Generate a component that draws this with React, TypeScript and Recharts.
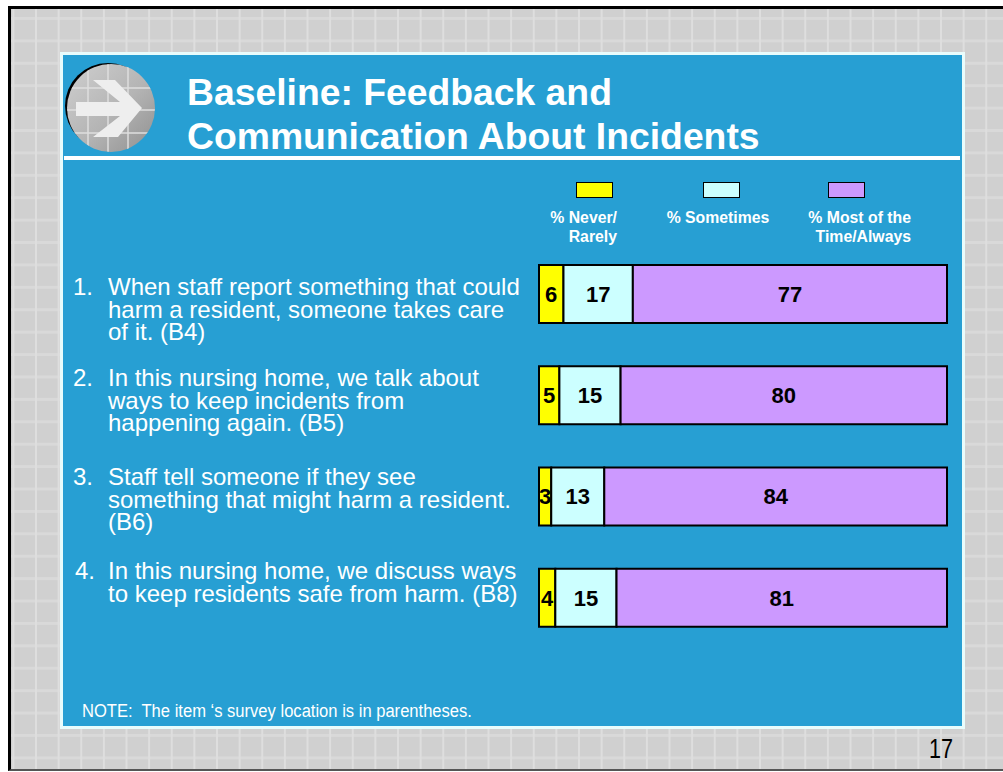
import { Bar, BarChart, LabelList, XAxis, YAxis } from 'recharts'

const ARIAL = '"Liberation Sans", Arial, sans-serif'

const itemIds = ['1', '2', '3', '4']
const neverRarely = [6, 5, 3, 4]
const sometimes = [17, 15, 13, 15]
const mostAlways = [77, 80, 84, 81]

const itemNumbers = ['1.', '2.', '3.', '4.']
const itemLines = [
  ['When staff report something that could', 'harm a resident, someone takes care', 'of it. (B4)'],
  ['In this nursing home, we talk about', 'ways to keep incidents from', 'happening again. (B5)'],
  ['Staff tell someone if they see', 'something that might harm a resident.', '(B6)'],
  ['In this nursing home, we discuss ways', 'to keep residents safe from harm. (B8)'],
]
const itemFirstLineShift = [-7.5, -17.5, -20, -27]

const legendItems = [
  { label: ['% Never/', 'Rarely'], color: '#ffff00', swatchLeft: 576, textLeft: 517, width: 100, align: 'right' },
  { label: ['% Sometimes'], color: '#ccffff', swatchLeft: 703, textLeft: 658, width: 120, align: 'center' },
  { label: ['% Most of the', 'Time/Always'], color: '#cc99ff', swatchLeft: 828, textLeft: 791, width: 120, align: 'right' },
]

const data = itemIds.map((id, i) => ({
  id,
  never: neverRarely[i],
  sometimes: sometimes[i],
  most: mostAlways[i],
}))

function ItemTick({ y, payload }: any) {
  const i = itemIds.indexOf(payload.value)
  const top = y + itemFirstLineShift[i]
  return (
    <text fontFamily={ARIAL} fontSize={24} fill="#ffffff" y={top} dominantBaseline="central">
      <tspan x={i === 3 ? 15 : 13} y={top} dominantBaseline="central">
        {itemNumbers[i]}
      </tspan>
      {itemLines[i].map((line, j) => (
        <tspan key={j} x={48} y={top + j * 22.5} dominantBaseline="central">
          {line}
        </tspan>
      ))}
    </text>
  )
}

function SeriesLabels({ dataKey }: { dataKey: string }) {
  return (
    <LabelList
      dataKey={dataKey}
      position="center"
      fill="#000000"
      style={{ fontFamily: ARIAL, fontSize: 22, fontWeight: 700 }}
    />
  )
}

function ArrowBadge() {
  return (
    <svg width={100} height={100} style={{ position: 'absolute', left: 62, top: 60 }}>
      <defs>
        <linearGradient id="badge" x1="0" y1="0" x2="1" y2="1">
          <stop offset="0%" stopColor="#cfcfcf" />
          <stop offset="55%" stopColor="#b4b4b4" />
          <stop offset="100%" stopColor="#8f8f8f" />
        </linearGradient>
        <clipPath id="badgeClip">
          <circle cx={49} cy={48} r={44} />
        </clipPath>
      </defs>
      <circle cx={46} cy={46} r={43} fill="#000000" />
      <circle cx={49} cy={48} r={44} fill="url(#badge)" />
      <g clipPath="url(#badgeClip)" stroke="#dedede" strokeWidth={1.5}>
        <path d="M26 0 V100 M46 0 V100 M66 0 V100 M0 28 H100 M0 50 H100 M0 73 H100" />
      </g>
      <path d="M31 20 L53 20 L80 48 L56 77 L31 77 L58 56 L14 56 L14 42 L58 42 Z" fill="#eeeeee" />
    </svg>
  )
}

export default function App() {
  return (
    <div style={{ position: 'fixed', left: 0, top: 0, width: 1003, height: 772, background: '#ffffff', overflow: 'hidden', fontFamily: ARIAL }}>
      <div
        style={{
          position: 'absolute',
          left: 8,
          top: 6,
          width: 995,
          height: 765,
          borderLeft: '3px solid #000000',
          borderTop: '3px solid #000000',
          borderBottom: '2px solid #555555',
          boxSizing: 'border-box',
          backgroundColor: '#d0d0d0',
          backgroundImage:
            'linear-gradient(to right, #dedede 1.5px, transparent 1.5px), linear-gradient(to bottom, #d9d9d9 2.5px, transparent 2.5px)',
          backgroundSize: '22.64px 22.42px',
          backgroundPosition: '1.4px 8px',
        }}
      />
      <div
        style={{
          position: 'absolute',
          left: 60,
          top: 52,
          width: 905,
          height: 677,
          boxSizing: 'border-box',
          background: '#279fd3',
          border: '3px solid #e8fcfc',
        }}
      />
      <ArrowBadge />
      <div style={{ position: 'absolute', left: 187, top: 70, color: '#ffffff', fontSize: 37.3, fontWeight: 700, lineHeight: '44px', whiteSpace: 'nowrap' }}>
        <div>Baseline: Feedback and</div>
        <div>Communication About Incidents</div>
      </div>
      <div style={{ position: 'absolute', left: 64, top: 156, width: 896, height: 4, background: '#ffffff' }} />

      {legendItems.map((item) => (
        <div key={item.color}>
          <div
            style={{
              position: 'absolute',
              left: item.swatchLeft,
              top: 182,
              width: 37,
              height: 16,
              boxSizing: 'border-box',
              background: item.color,
              border: '1px solid #000000',
            }}
          />
          <div
            style={{
              position: 'absolute',
              left: item.textLeft,
              top: 208,
              width: item.width,
              textAlign: item.align as any,
              color: '#ffffff',
              fontSize: 15.8,
              fontWeight: 700,
              lineHeight: '19px',
              whiteSpace: 'nowrap',
            }}
          >
            {item.label.map((l) => (
              <div key={l}>{l}</div>
            ))}
          </div>
        </div>
      ))}

      <div style={{ position: 'absolute', left: 60, top: 243 }}>
        <BarChart
          width={900}
          height={405}
          data={data}
          layout="vertical"
          barSize={58}
          margin={{ top: 0, right: 13, bottom: 0, left: 0 }}
        >
          <XAxis type="number" domain={[0, 100]} hide />
          <YAxis
            type="category"
            dataKey="id"
            width={479}
            interval={0}
            axisLine={false}
            tickLine={false}
            tick={<ItemTick />}
          />
          <Bar dataKey="never" stackId="a" fill="#ffff00" stroke="#000000" strokeWidth={2} isAnimationActive={false}>
            {SeriesLabels({ dataKey: 'never' })}
          </Bar>
          <Bar dataKey="sometimes" stackId="a" fill="#ccffff" stroke="#000000" strokeWidth={2} isAnimationActive={false}>
            {SeriesLabels({ dataKey: 'sometimes' })}
          </Bar>
          <Bar dataKey="most" stackId="a" fill="#cc99ff" stroke="#000000" strokeWidth={2} isAnimationActive={false}>
            {SeriesLabels({ dataKey: 'most' })}
          </Bar>
        </BarChart>
      </div>

      <div
        style={{
          position: 'absolute',
          left: 82,
          top: 701,
          color: '#ffffff',
          fontSize: 18,
          whiteSpace: 'nowrap',
          transform: 'scaleX(0.92)',
          transformOrigin: 'left top',
        }}
      >
        NOTE:&nbsp; The item ‘s survey location is in parentheses.
      </div>
      <div
        style={{
          position: 'absolute',
          left: 929,
          top: 734,
          color: '#000000',
          fontSize: 27,
          whiteSpace: 'nowrap',
          transform: 'scaleX(0.8)',
          transformOrigin: 'left top',
        }}
      >
        17
      </div>
    </div>
  )
}
